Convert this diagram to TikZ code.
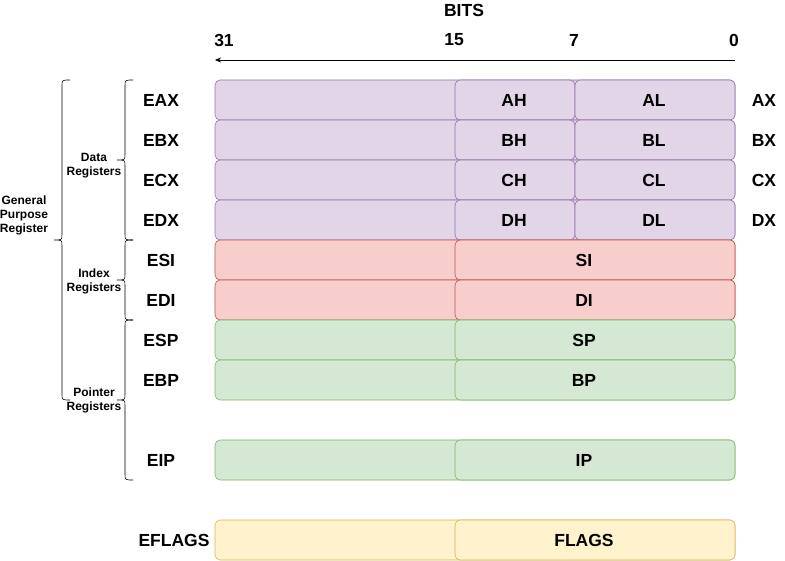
\documentclass[tikz,border=0pt]{standalone}
\usepackage{fontspec}
\setmainfont{Liberation Sans}
\usetikzlibrary{arrows.meta}
\begin{document}
\begin{tikzpicture}[x=1pt,y=-1pt,
  reg/.style={draw, rounded corners=5pt, minimum height=40pt, inner sep=0pt, line width=0.6pt},
  purp/.style={reg, fill=purpfill, draw=purpline},
  redr/.style={reg, fill=redfill, draw=redline},
  grn/.style={reg, fill=grnfill, draw=grnline},
  yel/.style={reg, fill=yelfill, draw=yelline},
  lab/.style={font=\fontsize{17.5pt}{20pt}\selectfont\bfseries, inner sep=0pt},
  lbl/.style={font=\fontsize{12pt}{14pt}\selectfont\bfseries, align=center, inner sep=0pt},
  brace/.style={draw, line width=0.6pt}
]
\definecolor{purpfill}{HTML}{E1D5E7}\definecolor{purpline}{HTML}{9673A6}
\definecolor{redfill}{HTML}{F8CECC}\definecolor{redline}{HTML}{B85450}
\definecolor{grnfill}{HTML}{D5E8D4}\definecolor{grnline}{HTML}{82B366}
\definecolor{yelfill}{HTML}{FFF2CC}\definecolor{yelline}{HTML}{D6B656}
\useasboundingbox (0,0) rectangle (785,561);

% header
\node[lab] (bits) at (464,10) {BITS};
\node[lab] (b31) at (224,40) {31};
\node[lab] (b15) at (454,40) {15};
\node[lab] (b7) at (574,40) {7};
\node[lab] (b0) at (734,40) {0};
\coordinate (arrS) at (735,60);
\coordinate (arrE) at (215,60);
\draw[line width=0.6pt,-{Stealth[length=6pt,width=5pt]}] (arrS) -- (arrE);

% data registers
\foreach \y/\n/\h/\l/\x in {100/EAX/AH/AL/AX,140/EBX/BH/BL/BX,180/ECX/CH/CL/CX,220/EDX/DH/DL/DX}{
  \node[purp, minimum width=520pt] (full\n) at (475,\y) {};
  \node[purp, minimum width=120pt] (hi\n) at (515,\y) {};
  \node[purp, minimum width=160pt] (lo\n) at (655,\y) {};
  \node[lab] (th\n) at (514,\y) {\h};
  \node[lab] (tl\n) at (654,\y) {\l};
  \node[lab] (name\n) at (161,\y) {\n};
  \node[lab] (r\n) at (764,\y) {\x};
}
% index registers
\foreach \y/\n/\s in {260/ESI/SI,300/EDI/DI}{
  \node[redr, minimum width=520pt] (full\n) at (475,\y) {};
  \node[redr, minimum width=280pt] (lo\n) at (595,\y) {};
  \node[lab] (t\n) at (584,\y) {\s};
  \node[lab] (name\n) at (161,\y) {\n};
}
% pointer registers
\foreach \y/\n/\s in {340/ESP/SP,380/EBP/BP,460/EIP/IP}{
  \node[grn, minimum width=520pt] (full\n) at (475,\y) {};
  \node[grn, minimum width=280pt] (lo\n) at (595,\y) {};
  \node[lab] (t\n) at (584,\y) {\s};
  \node[lab] (name\n) at (161,\y) {\n};
}
% flags
\node[yel, minimum width=520pt] (fullFL) at (475,540) {};
\node[yel, minimum width=280pt] (loFL) at (595,540) {};
\node[lab] (tFL) at (584,540) {FLAGS};
\node[lab] (nameFL) at (174,540) {EFLAGS};

% braces
\def\bracepath#1#2#3#4#5{% xr, xm, xt, y1, y2 ; tip at midpoint
  \pgfmathsetmacro\ym{(#4+#5)/2}
  \draw[brace] (#1,#4) .. controls (#2,#4) .. (#2,#4+6) -- (#2,\ym-6) .. controls (#2,\ym) .. (#3,\ym)
     .. controls (#2,\ym) .. (#2,\ym+6) -- (#2,#5-6) .. controls (#2,#5) .. (#1,#5);
}
\bracepath{133}{125}{117}{80}{240}
\bracepath{133}{125}{117}{240}{320}
\bracepath{133}{125}{117}{320}{480}
\bracepath{70}{62}{54}{80}{400}

\node[lbl] (dataL) at (94,166) {Data\\Registers};
\node[lbl] (indexL) at (94,281) {Index\\Registers};
\node[lbl] (ptrL) at (94,400) {Pointer\\Registers};
\node[lbl] (gpL) at (24,215) {General\\Purpose\\Register};
\end{tikzpicture}
\end{document}
